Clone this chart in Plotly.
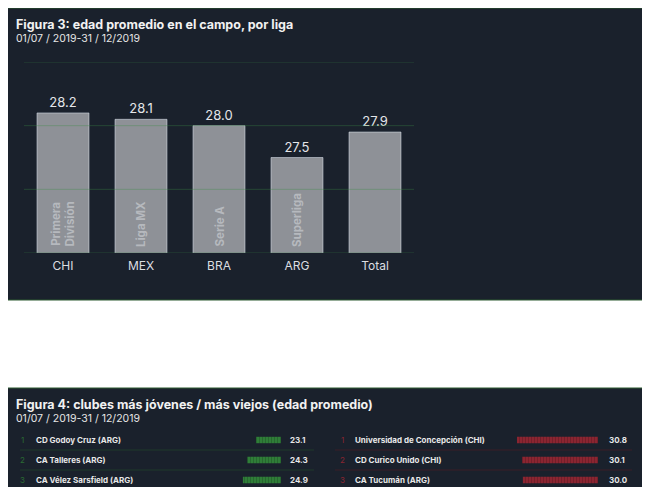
import plotly.graph_objects as go

W, H = 650, 487
OFF = 8  # margen del body de la página

# figura 3
ligas = ["CHI", "MEX", "BRA", "ARG", "Total"]
nombres_liga = ["Primera<br>División", "Liga MX", "Serie A", "Superliga", ""]
edad_liga = [28.2, 28.1, 28.0, 27.5, 27.9]
lineas_guia = [26, 27, 28, 29]

# figura 4
jovenes = ["CD Godoy Cruz (ARG)", "CA Talleres (ARG)", "CA Vélez Sarsfield (ARG)"]
edad_jovenes = [23.1, 24.3, 24.9]
viejos = ["Universidad de Concepción (CHI)", "CD Curico Unido (CHI)", "CA Tucumán (ARG)"]
edad_viejos = [30.8, 30.1, 30.0]
puestos = [1, 2, 3]

FONT = "Inter"
BG = "#1a212c"
GRID = "rgba(60,140,70,0.35)"


def px(x):
    return (x - OFF) / W


def py(y):
    return 1 - (y - OFF) / H


fig = go.Figure()

fig.add_trace(go.Bar(
    x=ligas, y=edad_liga, marker_color="#8e9197",
    text=[f"{v:.1f}" for v in edad_liga], textposition="outside",
    textfont=dict(color="#e4e6e9", size=13, family=FONT), cliponaxis=False,
    hoverinfo="skip",
))

# barras de la figura 4 (crecen hacia la izquierda)
fila = list(range(len(puestos)))
base4 = 19.66
fig.add_trace(go.Bar(
    y=fila, x=[v - base4 for v in edad_jovenes], base=base4, orientation="h",
    xaxis="x2", yaxis="y2", width=0.32,
    marker=dict(color="#2f7d38", line_width=0,
                pattern=dict(shape="|", fgcolor="#1f5226", size=3, solidity=0.35)),
    hoverinfo="skip",
))
fig.add_trace(go.Bar(
    y=fila, x=[v - base4 for v in edad_viejos], base=base4, orientation="h",
    xaxis="x3", yaxis="y3", width=0.32,
    marker=dict(color="#8a2531", line_width=0,
                pattern=dict(shape="|", fgcolor="#5c1a22", size=3, solidity=0.35)),
    hoverinfo="skip",
))

k = 7.27  # px por año
izq_fin, der_fin = 281, 598
span = 200 / k

shapes = [
    dict(type="rect", xref="paper", yref="paper", x0=px(6), x1=px(644), y0=py(300), y1=py(8),
         fillcolor=BG, line=dict(color="#2c5a30", width=1), layer="below"),
    dict(type="rect", xref="paper", yref="paper", x0=px(6), x1=px(644), y0=-0.05, y1=py(388),
         fillcolor=BG, line=dict(color="#2c5a30", width=1), layer="below"),
]
for g in lineas_guia:
    shapes.append(dict(type="line", xref="paper", yref="y", x0=px(24), x1=px(414), y0=g, y1=g,
                       line=dict(color=GRID, width=1), layer="above"))
for i in [0.5, 1.5]:
    shapes.append(dict(type="line", xref="paper", yref="y2", x0=px(20), x1=px(314), y0=i, y1=i,
                       line=dict(color="#1f3a2a", width=1)))
    shapes.append(dict(type="line", xref="paper", yref="y3", x0=px(335), x1=px(632), y0=i, y1=i,
                       line=dict(color="#3a1e26", width=1)))

ann = []
ann.append(dict(x=px(14), y=py(24), text="<b>Figura 3: edad promedio en el campo, por liga</b>",
                font=dict(size=12.5, color="#f2f2f2", family=FONT)))
ann.append(dict(x=px(14), y=py(38), text="01/07 / 2019-31 / 12/2019",
                font=dict(size=10.5, color="#e6e6e6", family=FONT)))
ann.append(dict(x=px(14), y=py(404),
                text="<b>Figura 4: clubes más jóvenes / más viejos (edad promedio)</b>",
                font=dict(size=12.5, color="#f2f2f2", family=FONT)))
ann.append(dict(x=px(14), y=py(418), text="01/07 / 2019-31 / 12/2019",
                font=dict(size=10.5, color="#e6e6e6", family=FONT)))
for a in ann:
    a.update(xref="paper", yref="paper", xanchor="left", yanchor="middle", showarrow=False)

for lig, nom in zip(ligas, nombres_liga):
    if nom:
        ann.append(dict(x=lig, y=26, xref="x", yref="y", text=f"<b>{nom}</b>", textangle=-90,
                        xanchor="center", yanchor="bottom", yshift=4, showarrow=False,
                        font=dict(size=11.5, color="#b6b9be", family=FONT)))

for i in fila:
    ann.append(dict(x=px(22), y=i, xref="paper", yref="y2", text=str(puestos[i]), showarrow=False,
                    xanchor="center", font=dict(size=8, color="#2a6b33", family=FONT)))
    ann.append(dict(x=px(34), y=i, xref="paper", yref="y2", text=f"<b>{jovenes[i]}</b>",
                    showarrow=False, xanchor="left", font=dict(size=8, color="#e8e8e8", family=FONT)))
    ann.append(dict(x=px(288), y=i, xref="paper", yref="y2", text=f"<b>{edad_jovenes[i]:.1f}</b>",
                    showarrow=False, xanchor="left", font=dict(size=8, color="#e8e8e8", family=FONT)))
    ann.append(dict(x=px(343), y=i, xref="paper", yref="y3", text=str(puestos[i]), showarrow=False,
                    xanchor="center", font=dict(size=8, color="#8a2531", family=FONT)))
    ann.append(dict(x=px(353), y=i, xref="paper", yref="y3", text=f"<b>{viejos[i]}</b>",
                    showarrow=False, xanchor="left", font=dict(size=8, color="#e8e8e8", family=FONT)))
    ann.append(dict(x=px(607), y=i, xref="paper", yref="y3", text=f"<b>{edad_viejos[i]:.1f}</b>",
                    showarrow=False, xanchor="left", font=dict(size=8, color="#e8e8e8", family=FONT)))

row_dom = [py(490), py(430)]
row_rng = [2.5, -0.5]

fig.update_layout(
    width=W, height=H, margin=dict(l=0, r=0, t=0, b=0),
    paper_bgcolor="white", plot_bgcolor="rgba(0,0,0,0)",
    showlegend=False, bargap=0.333,
    font=dict(family=FONT),
    shapes=shapes, annotations=ann,
    xaxis=dict(domain=[px(24), px(414)], showgrid=False, showline=False,
               tickfont=dict(size=12, color="#dcdee1"), ticks="", ticklabelstandoff=4,
               fixedrange=True),
    yaxis=dict(domain=[py(253), py(62)], range=[26, 29], showgrid=False, showticklabels=False,
               zeroline=False, fixedrange=True),
    xaxis2=dict(domain=[px(izq_fin - 200), px(izq_fin)], range=[base4 + span, base4], anchor="y2",
                visible=False),
    yaxis2=dict(domain=row_dom, range=row_rng, anchor="x2", visible=False),
    xaxis3=dict(domain=[px(der_fin - 200), px(der_fin)], range=[base4 + span, base4], anchor="y3",
                visible=False),
    yaxis3=dict(domain=row_dom, range=row_rng, anchor="x3", visible=False),
)

fig.write_html("out.html")
